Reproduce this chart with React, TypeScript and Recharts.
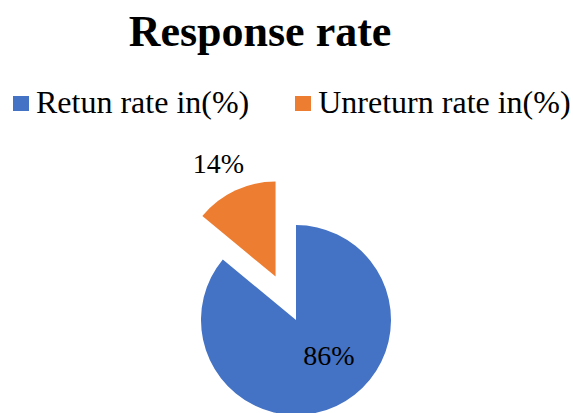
import { PieChart, Pie, Cell } from "recharts"

const CATEGORIES = ["Retun rate in(%)", "Unreturn rate in(%)"]
const VALUES = [86, 14]
const COLORS = ["#4472C4", "#ED7D31"]
const TITLE = "Response rate"

const data = CATEGORIES.map((name, i) => ({ name, value: VALUES[i] }))
const total = VALUES.reduce((a, b) => a + b, 0)

const CX = 296
const CY = 320
const R = 95
const EXPLODE = 48
const RAD = Math.PI / 180

// mid angle of the exploded slice (index 1), pie runs clockwise from 12 o'clock
const startOfSecond = 90 - (VALUES[0] / total) * 360
const midSecond = startOfSecond - ((VALUES[1] / total) * 360) / 2
const EX = CX + EXPLODE * Math.cos(midSecond * RAD)
const EY = CY - EXPLODE * Math.sin(midSecond * RAD)

const FONT = "'Liberation Serif', 'Times New Roman', serif"

function ChartLegend() {
  return (
    <div
      style={{
        position: "absolute",
        left: 13,
        top: 84,
        display: "flex",
        fontFamily: FONT,
        fontSize: 32,
        lineHeight: "36px",
        color: "#000",
        whiteSpace: "nowrap",
      }}
    >
      {data.map((d, i) => (
        <div key={d.name} style={{ display: "flex", alignItems: "center", marginRight: i === 0 ? 46 : 0 }}>
          <span style={{ display: "inline-block", width: 16, height: 15, background: COLORS[i], marginRight: 7, marginTop: 2 }} />
          <span>{d.name}</span>
        </div>
      ))}
    </div>
  )
}

const labelStyle = { fontFamily: FONT, fontSize: 28, fill: "#000" }

function innerLabel(props: any) {
  if (props.index !== 0) return null
  return (
    <text x={props.cx + 33} y={props.cy + 45} textAnchor="middle" style={labelStyle}>
      {`${Math.round(props.percent * 100)}%`}
    </text>
  )
}

function outerLabel(props: any) {
  if (props.index !== 1) return null
  const r = props.outerRadius + 30
  const x = props.cx + r * Math.cos(props.midAngle * RAD)
  const y = props.cy - r * Math.sin(props.midAngle * RAD)
  return (
    <text x={x - 4} y={y + 10} textAnchor="middle" style={labelStyle}>
      {`${Math.round(props.percent * 100)}%`}
    </text>
  )
}

export default function App() {
  return (
    <div style={{ position: "absolute", left: 0, top: 0, width: 573, height: 413, background: "#fff", overflow: "hidden" }}>
      <div
        style={{
          position: "absolute",
          left: 0,
          top: 7,
          width: 520,
          textAlign: "center",
          fontFamily: FONT,
          fontWeight: "bold",
          fontSize: 44,
          lineHeight: "50px",
          color: "#000",
        }}
      >
        {TITLE}
      </div>
      <ChartLegend />
      <div style={{ position: "absolute", left: 0, top: 0 }}>
        <PieChart width={573} height={413} margin={{ top: 0, right: 0, bottom: 0, left: 0 }}>
          <Pie
            data={data}
            dataKey="value"
            nameKey="name"
            cx={CX}
            cy={CY}
            outerRadius={R}
            startAngle={90}
            endAngle={-270}
            stroke="none"
            label={innerLabel}
            labelLine={false}
            isAnimationActive={false}
          >
            {data.map((d, i) => (
              <Cell key={d.name} fill={i === 0 ? COLORS[0] : "none"} />
            ))}
          </Pie>
          <Pie
            data={data}
            dataKey="value"
            nameKey="name"
            cx={EX}
            cy={EY}
            outerRadius={R}
            startAngle={90}
            endAngle={-270}
            stroke="none"
            label={outerLabel}
            labelLine={false}
            isAnimationActive={false}
          >
            {data.map((d, i) => (
              <Cell key={d.name} fill={i === 1 ? COLORS[1] : "none"} />
            ))}
          </Pie>
        </PieChart>
      </div>
    </div>
  )
}
